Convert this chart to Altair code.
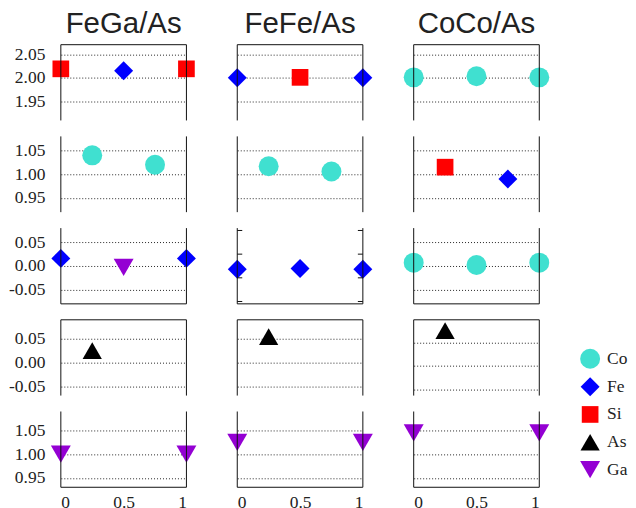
import altair as alt
import pandas as pd

# ---- data -------------------------------------------------------------
columns = ["FeGa/As", "FeFe/As", "CoCo/As"]
elements = ["Co", "Fe", "Si", "As", "Ga"]
element_colors = ["#40E0D0", "#0000FF", "#FF0000", "#000000", "#9400D3"]
element_shapes = ["circle", "diamond", "square", "triangle-up", "triangle-down"]
element_sizes = [400, 361, 280, 373, 400]

# points: row index, column index, element, x, y
pt_row = [0, 0, 0, 0, 0, 0, 0, 0, 0,
          1, 1, 1, 1, 1, 1,
          2, 2, 2, 2, 2, 2, 2, 2, 2,
          3, 3, 3,
          4, 4, 4, 4, 4, 4]
pt_col = [0, 0, 0, 1, 1, 1, 2, 2, 2,
          0, 0, 1, 1, 2, 2,
          0, 0, 0, 1, 1, 1, 2, 2, 2,
          0, 1, 2,
          0, 0, 1, 1, 2, 2]
pt_el = ["Si", "Fe", "Si", "Fe", "Si", "Fe", "Co", "Co", "Co",
         "Co", "Co", "Co", "Co", "Si", "Fe",
         "Fe", "Ga", "Fe", "Fe", "Fe", "Fe", "Co", "Co", "Co",
         "As", "As", "As",
         "Ga", "Ga", "Ga", "Ga", "Ga", "Ga"]
pt_x = [0, 0.5, 1, 0, 0.5, 1, 0, 0.5, 1,
        0.25, 0.75, 0.25, 0.75, 0.25, 0.75,
        0, 0.5, 1, 0, 0.5, 1, 0, 0.5, 1,
        0.25, 0.25, 0.25,
        0, 1, 0, 1, 0, 1]
pt_y = [2.019, 2.015, 2.019, 2.000, 2.001, 2.000, 2.001, 2.0035, 2.001,
        1.040, 1.020, 1.017, 1.006, 1.015, 0.990,
        0.016, -0.003, 0.016, -0.007, -0.0055, -0.007, 0.007, 0.002, 0.007,
        0.025, 0.0546, 0.075,
        1.000, 1.000, 1.025, 1.025, 1.045, 1.045]

# y domains of each row, and a per-panel override
row_domains = [[1.91, 2.07], [0.92, 1.08], [-0.08, 0.08], [-0.07, 0.09], [0.93, 1.09]]
panel_domain_override = {(3, 2): [-0.0625, 0.098]}
row_ticks = [[1.95, 2.00, 2.05], [0.95, 1.00, 1.05], [-0.05, 0.00, 0.05],
             [-0.05, 0.00, 0.05], [0.95, 1.00, 1.05]]
x_ticks = [0, 0.5, 1]
minor_ticks_FeFe_row2 = [-0.075, -0.025, 0.025, 0.075]

df = pd.DataFrame({"row": pt_row, "col": pt_col, "element": pt_el, "x": pt_x, "y": pt_y})

W, H = 126, 76
SERIF = "Liberation Serif"
SANS = "Liberation Sans"

color_scale = alt.Scale(domain=elements, range=element_colors)
shape_scale = alt.Scale(domain=elements, range=element_shapes)
size_scale = alt.Scale(type="ordinal", domain=elements, range=element_sizes)
legend = alt.Legend(title=None, orient="none", legendX=521, legendY=305,
                    labelFont=SERIF, labelFontSize=17.5, labelColor="#222",
                    labelOffset=7, rowPadding=8.6, symbolStrokeWidth=0)

label_expr = "datum.value < 0 ? '-' + format(-datum.value, '.2f') : format(datum.value, '.2f')"


def frame_rule(**enc):
    return alt.Chart(pd.DataFrame({"k": [0]})).mark_rule(color="#111", strokeWidth=1).encode(**enc)


def panel(r, c):
    d = df[(df.row == r) & (df.col == c)]
    ydom = panel_domain_override.get((r, c), row_domains[r])
    yscale = alt.Scale(domain=ydom, nice=False, zero=False)
    y_axis = alt.Axis(values=row_ticks[r], grid=True, gridDash=[1, 2], gridColor="#000",
                      gridOpacity=0.85, gridWidth=1, domain=False, ticks=False,
                      labels=(c == 0), labelExpr=label_expr, labelFont=SERIF,
                      labelFontSize=17.5, labelColor="#222", labelPadding=16, title=None)
    x_axis = alt.Axis(values=x_ticks, grid=False, domain=False, ticks=False,
                      labels=(r == 4), format="~g", labelFont=SERIF, labelFontSize=17.5,
                      labelColor="#222", labelPadding=6, title=None)
    pts = alt.Chart(d).mark_point(filled=True, opacity=1, strokeWidth=0).encode(
        x=alt.X("x:Q", scale=alt.Scale(domain=[0, 1], nice=False, zero=False), axis=x_axis),
        y=alt.Y("y:Q", scale=yscale, axis=y_axis),
        color=alt.Color("element:N", scale=color_scale, legend=legend),
        shape=alt.Shape("element:N", scale=shape_scale, legend=legend),
        size=alt.Size("element:N", scale=size_scale, legend=legend),
    )
    layers = [pts,
              frame_rule(x=alt.value(0), y=alt.value(0), y2=alt.value(H)),
              frame_rule(x=alt.value(W), y=alt.value(0), y2=alt.value(H))]
    if r in (0, 3):
        layers.append(frame_rule(y=alt.value(0), x=alt.value(0), x2=alt.value(W)))
    if r in (2, 4):
        layers.append(frame_rule(y=alt.value(H), x=alt.value(0), x2=alt.value(W)))
    if (r, c) == (2, 1):
        tk = pd.DataFrame({"t": minor_ticks_FeFe_row2})
        for x0, x1 in ((0, 5), (W - 5, W)):
            layers.append(alt.Chart(tk).mark_rule(color="#111", strokeWidth=1).encode(
                y=alt.Y("t:Q", scale=yscale, axis=None),
                x=alt.value(x0), x2=alt.value(x1)))
    ch = alt.layer(*layers).properties(width=W, height=H)
    if r == 0:
        ch = ch.properties(title=alt.Title(columns[c], font=SANS, fontSize=29.5,
                                           fontWeight="normal", color="#222",
                                           anchor="middle", offset=5))
    return ch


panels = [panel(r, c) for r in range(5) for c in range(3)]
chart = alt.concat(*panels, columns=3, spacing={"row": 16, "column": 51},
                   bounds="flush").properties(
    padding=0
).configure_view(stroke=None).configure_axis(
    labelFont=SERIF, labelFontSize=17.5
).configure_legend(labelFont=SERIF)

chart.save("out.html", embed_options={"renderer": "svg", "actions": False})
